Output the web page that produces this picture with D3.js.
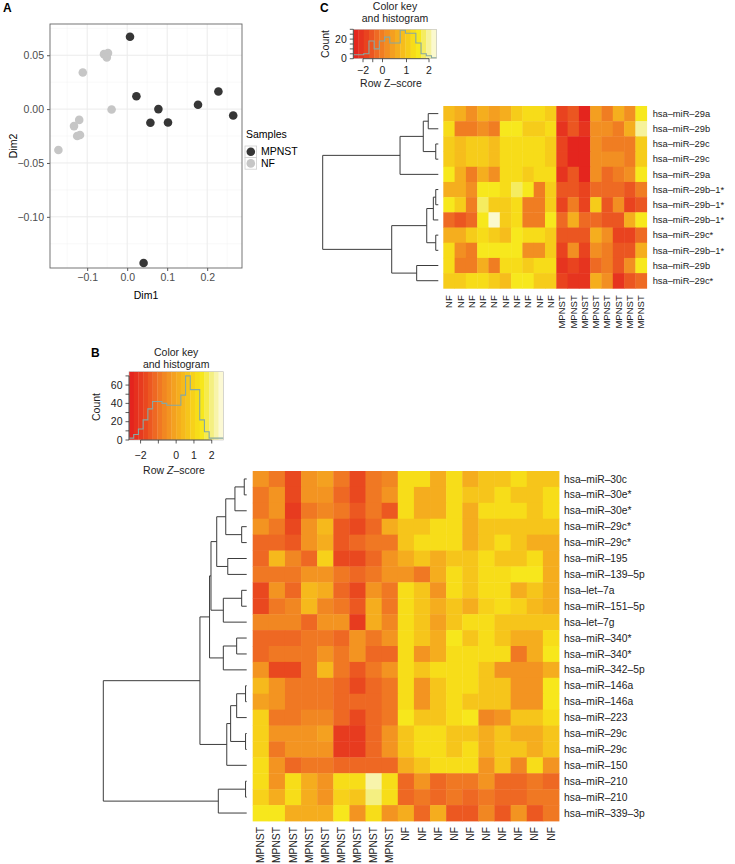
<!DOCTYPE html>
<html><head><meta charset="utf-8">
<script src="https://cdn.jsdelivr.net/npm/d3@7"></script>
<style>
body{margin:0;background:#fff}
svg{display:block}
text{font-family:"Liberation Sans",Arial,Helvetica,sans-serif}
</style>
</head><body>
<svg id="c" width="735" height="864"></svg>
<script>
// ================= DATA =================
// Panel A: MDS coordinates
const mdsMPNST = [[0.007,0.0672],[0.023,0.012],[0.078,0.0],[0.058,-0.0127],[0.102,-0.0124],[0.177,0.004],[0.228,0.0164],[0.265,-0.0059],[0.041,-0.1428]];
const mdsNF = [[-0.058,0.051],[-0.048,0.052],[-0.051,0.048],[-0.111,0.034],[-0.039,-0.0003],[-0.12,-0.010],[-0.133,-0.0158],[-0.125,-0.025],[-0.118,-0.024],[-0.172,-0.038]];
const aXTicks = [-0.1,0,0.1,0.2];
const aXLabels = ["\u22120.1","0.0","0.1","0.2"];
const aYTicks = [-0.10,-0.05,0,0.05];
const aYLabels = ["\u22120.10","\u22120.05","0.00","0.05"];
const aXMinor = [-0.15,-0.05,0.05,0.15,0.25];
const aYMinor = [-0.125,-0.075,-0.025,0.025,0.075];
const sampleGroups = ["MPNST","NF"];

// Panel C
const cRows = ["hsa\u2013miR\u201329a","hsa\u2013miR\u201329b","hsa\u2013miR\u201329c","hsa\u2013miR\u201329c","hsa\u2013miR\u201329a",
  "hsa\u2013miR\u201329b\u20131*","hsa\u2013miR\u201329b\u20131*","hsa\u2013miR\u201329b\u20131*","hsa\u2013miR\u201329c*",
  "hsa\u2013miR\u201329b\u20131*","hsa\u2013miR\u201329b","hsa\u2013miR\u201329c*"];
const cCols = ["NF","NF","NF","NF","NF","NF","NF","NF","NF","NF","MPNST","MPNST","MPNST","MPNST","MPNST","MPNST","MPNST","MPNST"];
const cValues = [
 [0.5,0.0,-0.5,0.2,-0.2,0.2,0.6,1.0,1.1,0.7,-1.7,-1.4,-2.1,-0.1,-0.8,0.0,-0.5,1.2],
 [1.1,-0.6,-0.6,-0.3,-0.8,1.2,1.2,0.7,0.7,1.1,-1.8,-1.2,-2.0,-0.5,-0.5,-0.8,0.2,1.8],
 [0.7,0.3,0.8,0.8,0.4,1.1,1.1,1.1,1.0,0.6,-1.6,-2.2,-2.1,-0.4,-0.6,-0.6,-0.6,0.7],
 [0.7,0.3,0.8,0.8,0.4,1.0,1.0,1.0,1.0,0.6,-1.6,-2.2,-2.1,-0.4,-0.5,-0.5,-0.8,0.7],
 [1.2,0.2,-0.7,0.0,-0.4,1.1,1.0,0.6,1.1,1.1,-2.0,-1.4,-2.1,-0.3,-1.0,-0.6,-0.5,1.2],
 [0.1,0.1,-0.4,1.2,1.2,1.1,1.6,1.2,-0.7,0.7,-1.3,-1.3,-1.5,-0.9,-0.9,-0.9,-1.4,-0.8],
 [1.2,0.6,-0.8,1.7,0.6,0.7,1.1,-0.7,-0.7,0.7,-1.5,-0.8,-1.5,0.7,-1.3,-0.3,-1.7,-1.3],
 [-1.1,-1.4,-0.9,1.2,2.2,0.7,1.1,-0.8,-0.8,1.2,-1.0,0.0,-0.9,-0.9,-1.2,-1.2,0.0,1.2],
 [0.2,0.2,0.7,1.1,0.7,0.3,1.3,1.1,1.1,0.7,-1.4,-1.4,-1.4,0.1,-0.4,-1.6,-1.5,-1.0],
 [1.1,-0.3,-0.8,1.3,1.3,1.2,1.2,-0.4,-0.4,0.7,-1.5,-0.5,-1.5,-0.5,-0.7,-1.3,-1.4,0.0],
 [1.1,-0.8,-0.8,0.0,-0.8,1.1,1.1,0.7,1.1,1.1,-1.8,-1.6,-1.8,-0.9,-0.6,-1.4,-0.4,1.2],
 [0.6,0.6,1.1,1.1,0.7,0.3,1.2,1.2,0.7,0.7,-1.5,-1.8,-1.8,0.1,-0.5,-2.0,-1.3,-0.9]
];
// row dendrogram: [left, right, mergeHeight], leaves = row index
const cTree = [[[[0,1,0.87],[2,3,0.22],1.30],4,3.31],[[[[5,6,0.22],7,0.43],[8,9,0.22],1.00],[10,11,1.87],4.03],10];
const cHist = [4,4,5,18,10,18,22,16,16,29,26,26,16,5,3,1];
const cKeyTicks = [-2,-1,0,1,2];
const cKeyLabels = [[-2,"\u22122"],[0,"0"],[1,"1"],[2,"2"]];
const cCountTicks = [0,5,10,15,20,25,30];
const cCountLabels = [0,20];

// Panel B
const bRows = ["hsa\u2013miR\u201330c","hsa\u2013miR\u201330e*","hsa\u2013miR\u201330e*","hsa\u2013miR\u201329c*","hsa\u2013miR\u201329c*",
  "hsa\u2013miR\u2013195","hsa\u2013miR\u2013139\u20135p","hsa\u2013let\u20137a","hsa\u2013miR\u2013151\u20135p","hsa\u2013let\u20137g",
  "hsa\u2013miR\u2013340*","hsa\u2013miR\u2013340*","hsa\u2013miR\u2013342\u20135p","hsa\u2013miR\u2013146a","hsa\u2013miR\u2013146a",
  "hsa\u2013miR\u2013223","hsa\u2013miR\u201329c","hsa\u2013miR\u201329c","hsa\u2013miR\u2013150","hsa\u2013miR\u2013210",
  "hsa\u2013miR\u2013210","hsa\u2013miR\u2013339\u20133p"];
const bCols = ["MPNST","MPNST","MPNST","MPNST","MPNST","MPNST","MPNST","MPNST","MPNST","NF","NF","NF","NF","NF","NF","NF","NF","NF","NF"];
const bValues = [
 [-0.5,-0.8,-1.8,-0.5,-0.2,-1.0,-1.8,-1.0,-0.6,1.1,1.1,0.1,1.2,0.1,0.7,0.7,1.2,0.7,0.7],
 [-1.0,-0.5,-1.8,-0.4,-0.5,-1.1,-1.6,-1.0,-0.5,1.1,0.1,0.1,1.1,0.6,0.6,1.1,0.7,0.7,1.1],
 [-0.8,-0.5,-2.0,-0.8,-0.6,-0.8,-1.4,-0.9,-1.4,1.1,0.1,0.1,1.1,0.2,1.1,1.1,1.1,0.7,1.1],
 [-0.4,-1.0,-1.7,-0.4,0.3,-1.5,-1.6,-1.3,0.1,0.6,0.6,1.1,1.1,0.2,0.6,0.6,0.6,0.6,0.7],
 [-1.1,-1.3,-1.4,-0.5,0.1,-1.4,-1.1,-1.0,-0.8,0.6,1.1,1.2,1.2,0.1,0.6,1.1,0.7,0.1,0.2],
 [-1.2,0.4,-0.6,-1.1,1.0,-1.6,-1.6,-1.3,-0.3,0.1,0.6,0.1,0.6,0.6,1.1,0.6,0.6,1.2,0.1],
 [-0.9,-0.9,-0.9,-0.5,-0.5,-1.0,-1.3,-1.0,-0.5,-0.5,-0.8,0.1,1.1,0.6,1.2,1.2,1.4,1.4,0.1],
 [-1.8,-0.4,-1.2,0.5,0.1,-1.2,-1.6,-0.3,-0.9,1.2,0.6,-0.3,1.1,0.7,1.2,1.2,0.1,0.6,0.1],
 [-1.8,-0.9,-0.6,0.3,-0.7,-1.0,-1.5,0.0,-0.9,1.2,0.6,0.1,0.7,0.1,1.0,1.2,0.9,0.4,0.1],
 [-0.7,-0.7,-0.6,-1.2,-0.5,-0.5,-1.9,0.0,-0.7,1.2,0.6,-0.2,0.7,1.2,1.2,0.6,0.6,0.7,0.6],
 [-1.3,-1.3,-1.3,-0.8,-0.8,-1.2,-0.5,-0.8,-0.4,1.2,0.7,0.1,1.4,0.6,1.2,0.6,0.0,0.2,1.2],
 [-1.3,-1.0,-1.0,-0.8,-0.4,-0.9,-0.4,-1.2,-1.2,1.2,-0.3,0.1,1.1,1.1,1.1,1.2,-0.8,0.0,1.4],
 [-0.4,-1.7,-1.7,-0.8,0.3,-0.9,-1.4,-0.8,-0.4,1.2,0.6,1.1,1.1,1.3,0.6,-0.3,-0.3,-0.5,0.1],
 [0.3,-0.4,-0.8,-0.8,-0.8,-1.3,-1.6,-1.3,-0.8,1.2,-0.3,0.7,1.1,1.1,0.6,0.6,-0.4,-0.4,1.4],
 [-0.1,-0.5,-1.0,-0.8,-0.8,-1.3,-1.3,-1.3,-0.9,1.2,-0.3,0.7,1.1,0.7,0.7,0.6,-0.4,-0.4,1.4],
 [0.8,-0.8,-1.0,-0.6,-0.6,-1.2,-1.6,-1.3,-0.9,1.4,0.7,0.7,1.2,1.4,-0.7,-0.3,0.7,0.7,1.2],
 [0.8,-0.5,-0.5,-0.5,-0.2,-1.9,-1.9,-1.3,-0.4,0.7,1.2,1.2,0.7,0.7,0.0,0.6,0.1,0.0,0.6],
 [0.8,-0.8,-0.5,-0.5,-0.3,-1.9,-1.9,-1.3,-0.4,0.7,1.2,1.2,0.7,1.1,0.1,0.6,0.7,0.1,0.6],
 [1.2,-0.5,-1.2,-0.9,-0.9,-1.3,-1.3,-1.3,-1.2,0.1,0.6,1.2,1.2,1.2,-0.3,0.6,-0.7,1.3,-0.4],
 [1.2,-0.3,1.2,0.2,-0.3,1.2,1.2,2.2,1.2,-1.2,-0.5,-1.2,-0.9,-0.9,-0.5,-1.1,-1.1,-0.9,-1.2],
 [0.8,0.0,1.2,0.2,-0.3,0.8,0.7,2.0,1.2,-1.2,-0.9,-1.2,-0.9,-1.2,-0.8,-1.1,-1.1,-0.9,-0.9],
 [1.5,1.5,0.2,0.2,0.1,1.4,-0.3,1.2,-0.4,0.1,-1.2,0.1,-1.5,-1.5,-0.7,-1.4,-0.4,-1.5,-0.8]
];
const bTree = [
  [
    [ [ [ [ [[0,1,0.17],2,0.82], [3,4,0.35], 1.46 ], [5,6,1.32], 2.09 ], [[7,8,0.35],9,1.63], 2.49 ], [[10,11,0.70],12,1.63], 2.59 ],
    [ [ [[13,14,0.08],15,0.70], [16,17,0.08], 1.12 ], 18, 1.39 ],
    3.26
  ],
  [[19,20,0.08],21,1.98],
  10
];
const bHist = [2,6,12,22,34,42,42,40,38,38,38,49,70,55,55,22,9,2,2,2];
const bKeyTicks = [-2,-1,0,1,2];
const bKeyLabels = [[-2,"\u22122"],[0,"0"],[1,"1"],[2,"2"]];
const bCountTicks = [0,10,20,30,40,50,60,70];
const bCountLabels = [0,20,40,60];

// colour palette (red -> orange -> yellow -> cream)
const palT = [0,0.17,0.28,0.39,0.5,0.61,0.72,0.78,0.88,1];
const palC = ["#e31e1e","#e9461f","#ee6a23","#f28b22","#f5a71f","#f6c11b","#f7dc19","#f7e81c","#f4ef86","#fefce8"];

// ================= DRAWING =================
const svg = d3.select("#c");
const pal = d3.scaleLinear().domain(palT).range(palC).interpolate(d3.interpolateRgb);

// ---------- Panel A ----------
(function(){
  const x = d3.scaleLinear().domain([-0.193,0.287]).range([50,242]);
  const y = d3.scaleLinear().domain([-0.1475,0.079]).range([268,24]);
  const g = svg.append("g");
  g.append("rect").attr("x",50).attr("y",24).attr("width",192).attr("height",244).attr("fill","#fff");
  g.selectAll(".mx").data(aXMinor).enter().append("line").attr("x1",d=>x(d)).attr("x2",d=>x(d)).attr("y1",24).attr("y2",268).attr("stroke","#f2f2f2").attr("stroke-width",0.5);
  g.selectAll(".my").data(aYMinor).enter().append("line").attr("y1",d=>y(d)).attr("y2",d=>y(d)).attr("x1",50).attr("x2",242).attr("stroke","#f2f2f2").attr("stroke-width",0.5);
  g.selectAll(".gx").data(aXTicks).enter().append("line").attr("x1",d=>x(d)).attr("x2",d=>x(d)).attr("y1",24).attr("y2",268).attr("stroke","#ebebeb").attr("stroke-width",1);
  g.selectAll(".gy").data(aYTicks).enter().append("line").attr("y1",d=>y(d)).attr("y2",d=>y(d)).attr("x1",50).attr("x2",242).attr("stroke","#ebebeb").attr("stroke-width",1);

  const xa = g.append("g").attr("transform","translate(0,268)")
    .call(d3.axisBottom(x).tickValues(aXTicks).tickFormat((d,i)=>aXLabels[i]).tickSize(3).tickPadding(3));
  const ya = g.append("g").attr("transform","translate(50,0)")
    .call(d3.axisLeft(y).tickValues(aYTicks).tickFormat((d,i)=>aYLabels[i]).tickSize(3).tickPadding(3));
  [xa,ya].forEach(a=>{
    a.select(".domain").remove();
    a.selectAll("line").attr("stroke","#555");
    a.selectAll("text").attr("font-size",10.5).attr("fill","#4d4d4d").attr("font-family",'"Liberation Sans",Arial,sans-serif');
  });
  g.append("rect").attr("x",50).attr("y",24).attr("width",192).attr("height",244).attr("fill","none").attr("stroke","#666").attr("stroke-width",0.9);

  g.selectAll(".pn").data(mdsNF).enter().append("circle").attr("cx",d=>x(d[0])).attr("cy",d=>y(d[1])).attr("r",4.3).attr("fill","#c6c6c6");
  g.selectAll(".pm").data(mdsMPNST).enter().append("circle").attr("cx",d=>x(d[0])).attr("cy",d=>y(d[1])).attr("r",4.3).attr("fill","#363636");

  g.append("text").attr("x",146).attr("y",299).attr("text-anchor","middle").attr("font-size",10.5).text("Dim1");
  g.append("text").attr("transform","translate(17,146) rotate(-90)").attr("text-anchor","middle").attr("font-size",10.5).text("Dim2");
  g.append("text").attr("x",3).attr("y",12).attr("font-size",12).attr("font-weight","bold").text("A");

  // legend
  g.append("text").attr("x",246).attr("y",138).attr("font-size",10.5).text("Samples");
  const lg = g.selectAll(".lg").data(sampleGroups).enter().append("g").attr("transform",(d,i)=>`translate(245,${146+i*11.6})`);
  lg.append("rect").attr("width",11.6).attr("height",11.6).attr("fill","#fff").attr("stroke","#d0d0d0").attr("stroke-width",0.8);
  lg.append("circle").attr("cx",5.8).attr("cy",5.8).attr("r",4.3).attr("fill",(d,i)=>i===0?"#363636":"#c6c6c6");
  lg.append("text").attr("x",16).attr("y",5.8).attr("dy","0.35em").attr("font-size",10.5).text(d=>d);
})();

// ---------- generic heatmap pieces ----------
function colorFor(v, zmin, zmax, n){
  let k = Math.floor((v - zmin)/(zmax - zmin)*n);
  k = Math.max(0, Math.min(n-1, k));
  return pal((k+0.5)/n);
}

function drawHeat(cfg){
  const g = svg.append("g");
  const xs = d3.scaleBand().domain(d3.range(cfg.cols.length)).range(cfg.xr);
  const ys = d3.scaleBand().domain(d3.range(cfg.rows.length)).range(cfg.yr);
  cfg.values.forEach((row,i)=>{
    g.selectAll(null).data(row).enter().append("rect")
      .attr("x",(d,j)=>xs(j)).attr("y",ys(i))
      .attr("width",xs.bandwidth()+0.4).attr("height",ys.bandwidth()+0.4)
      .attr("fill",d=>colorFor(d,cfg.zmin,cfg.zmax,cfg.nBins));
  });
  g.selectAll(".rl").data(cfg.rows).enter().append("text")
    .attr("x",cfg.xr[1]+cfg.rowGap).attr("y",(d,i)=>ys(i)+ys.bandwidth()/2).attr("dy","0.35em")
    .attr("font-size",cfg.rowFont).attr("fill","#222").text(d=>d);
  g.selectAll(".cl").data(cfg.cols).enter().append("text")
    .attr("transform",(d,j)=>`translate(${xs(j)+xs.bandwidth()/2},${cfg.yr[1]+cfg.colGap}) rotate(-90)`)
    .attr("text-anchor","end").attr("dy","0.35em").attr("font-size",cfg.colFont).attr("fill","#222").text(d=>d);
  // dendrogram
  const hs = d3.scaleLinear().domain([0,10]).range(cfg.dendroX);
  function rec(node){
    if (typeof node === "number") return {x: hs(0), y: ys(node)+ys.bandwidth()/2};
    const A = rec(node[0]);
    const B = rec(node[1]);
    const xx = hs(node[2]);
    g.append("path").attr("d",`M${A.x},${A.y}H${xx}V${B.y}H${B.x}`)
      .attr("fill","none").attr("stroke","#3c3c3c").attr("stroke-width",1);
    return {x:xx, y:(A.y+B.y)/2};
  }
  rec(cfg.tree);
}

function drawKey(cfg){
  const g = svg.append("g");
  const x0 = cfg.box[0], x1 = cfg.box[1], y0 = cfg.box[2], y1 = cfg.box[3];
  const zs = d3.scaleLinear().domain([cfg.zmin,cfg.zmax]).range([x0,x1]);
  const ax = cfg.axisScale || zs;
  const cs = d3.scaleLinear().domain([0,cfg.countMax]).range([y1,y0]);
  const n = cfg.nBins, w = (cfg.zmax-cfg.zmin)/n;
  const bins = d3.range(n);
  g.selectAll(".band").data(bins).enter().append("rect")
    .attr("x",i=>zs(cfg.zmin+i*w)).attr("y",y0).attr("width",zs(cfg.zmin+w)-zs(cfg.zmin)+0.3).attr("height",y1-y0)
    .attr("fill",i=>pal((i+0.5)/n));
  const pts = cfg.hist.map((c,i)=>[zs(cfg.zmin+i*w), cs(c)]);
  pts.push([zs(cfg.zmax), cs(cfg.hist[n-1])]);
  g.append("path").attr("d",d3.line().curve(d3.curveStepAfter)(pts)).attr("fill","none").attr("stroke","#86a8a2").attr("stroke-width",1.1);
  g.append("rect").attr("x",x0).attr("y",y0).attr("width",x1-x0).attr("height",y1-y0).attr("fill","none").attr("stroke","#bcbcbc").attr("stroke-width",0.6);
  // bottom axis
  const bt = cfg.keyTicks;
  g.append("line").attr("x1",ax(bt[0])).attr("x2",ax(bt[bt.length-1])).attr("y1",y1).attr("y2",y1).attr("stroke","#333").attr("stroke-width",0.8);
  g.selectAll(".bt").data(bt).enter().append("line").attr("x1",d=>ax(d)).attr("x2",d=>ax(d)).attr("y1",y1).attr("y2",y1+3.5).attr("stroke","#333").attr("stroke-width",0.8);
  g.selectAll(".bl").data(cfg.keyLabels).enter().append("text").attr("x",d=>ax(d[0])).attr("y",y1+cfg.labDy).attr("text-anchor","middle").attr("font-size",10.5).attr("fill","#222").text(d=>d[1]);
  // left axis
  const lt = cfg.countTicks;
  g.append("line").attr("x1",x0).attr("x2",x0).attr("y1",cs(lt[0])).attr("y2",cs(lt[lt.length-1])).attr("stroke","#333").attr("stroke-width",0.8);
  g.selectAll(".lt").data(lt).enter().append("line").attr("x1",x0-3.5).attr("x2",x0).attr("y1",d=>cs(d)).attr("y2",d=>cs(d)).attr("stroke","#333").attr("stroke-width",0.8);
  g.selectAll(".ll").data(cfg.countLabels).enter().append("text").attr("x",x0-6.5).attr("y",d=>cs(d)).attr("dy","0.35em").attr("text-anchor","end").attr("font-size",10.5).attr("fill","#222").text(d=>d);
  g.append("text").attr("transform",`translate(${cfg.countX},${cfg.countY}) rotate(-90)`).attr("text-anchor","middle").attr("dy","0.35em").attr("font-size",10.5).attr("fill","#222").text("Count");
  // titles
  g.append("text").attr("x",(x0+x1)/2).attr("y",cfg.titleY).attr("text-anchor","middle").attr("font-size",10.5).attr("fill","#222").text("Color key");
  g.append("text").attr("x",(x0+x1)/2).attr("y",cfg.titleY+12).attr("text-anchor","middle").attr("font-size",10.5).attr("fill","#222").text("and histogram");
  const zt = g.append("text").attr("x",cfg.zLabX).attr("y",cfg.zLabY).attr("text-anchor","middle").attr("font-size",10.5).attr("fill","#222");
  zt.append("tspan").text("Row ");
  zt.append("tspan").attr("font-style",cfg.italicZ?"italic":"normal").text("Z");
  zt.append("tspan").text("\u2013score");
  g.append("text").attr("x",cfg.panelX).attr("y",cfg.panelY).attr("font-size",12).attr("font-weight","bold").text(cfg.panel);
}

// ---------- Panel C ----------
drawHeat({rows:cRows, cols:cCols, values:cValues, xr:[443.3,646.7], yr:[106,288.3], zmin:-2.3, zmax:2.3, nBins:16,
  rowGap:6, rowFont:9.3, colGap:7, colFont:9.5, tree:cTree, dendroX:[438.3,322.7]});
drawKey({box:[353.3,436.7,29.3,58.7], zmin:-2.3, zmax:2.3, nBins:16, hist:cHist, countMax:30,
  axisScale: d3.scaleLinear().domain([-2.3,-2,0,1,2,2.3]).range([353.3,363,382.5,406.5,429,436.7]),
  keyTicks:cKeyTicks, keyLabels:cKeyLabels, countTicks:cCountTicks, countLabels:cCountLabels, labDy:15,
  countX:325.5, countY:44, titleY:10, zLabX:391, zLabY:87, italicZ:false, panel:"C", panelX:320, panelY:12});

// ---------- Panel B ----------
drawHeat({rows:bRows, cols:bCols, values:bValues, xr:[252.7,559], yr:[471,821], zmin:-2.65, zmax:2.65, nBins:20,
  rowGap:5, rowFont:10.3, colGap:6, colFont:10.3, tree:bTree, dendroX:[246.7,103.3]});
drawKey({box:[129,223.3,371.7,440], zmin:-2.65, zmax:2.65, nBins:20, hist:bHist, countMax:74.6,
  keyTicks:bKeyTicks, keyLabels:bKeyLabels, countTicks:bCountTicks, countLabels:bCountLabels, labDy:19,
  countX:96, countY:407, titleY:355.5, zLabX:174, zLabY:474, italicZ:true, panel:"B", panelX:91, panelY:357});
</script>
</body></html>
